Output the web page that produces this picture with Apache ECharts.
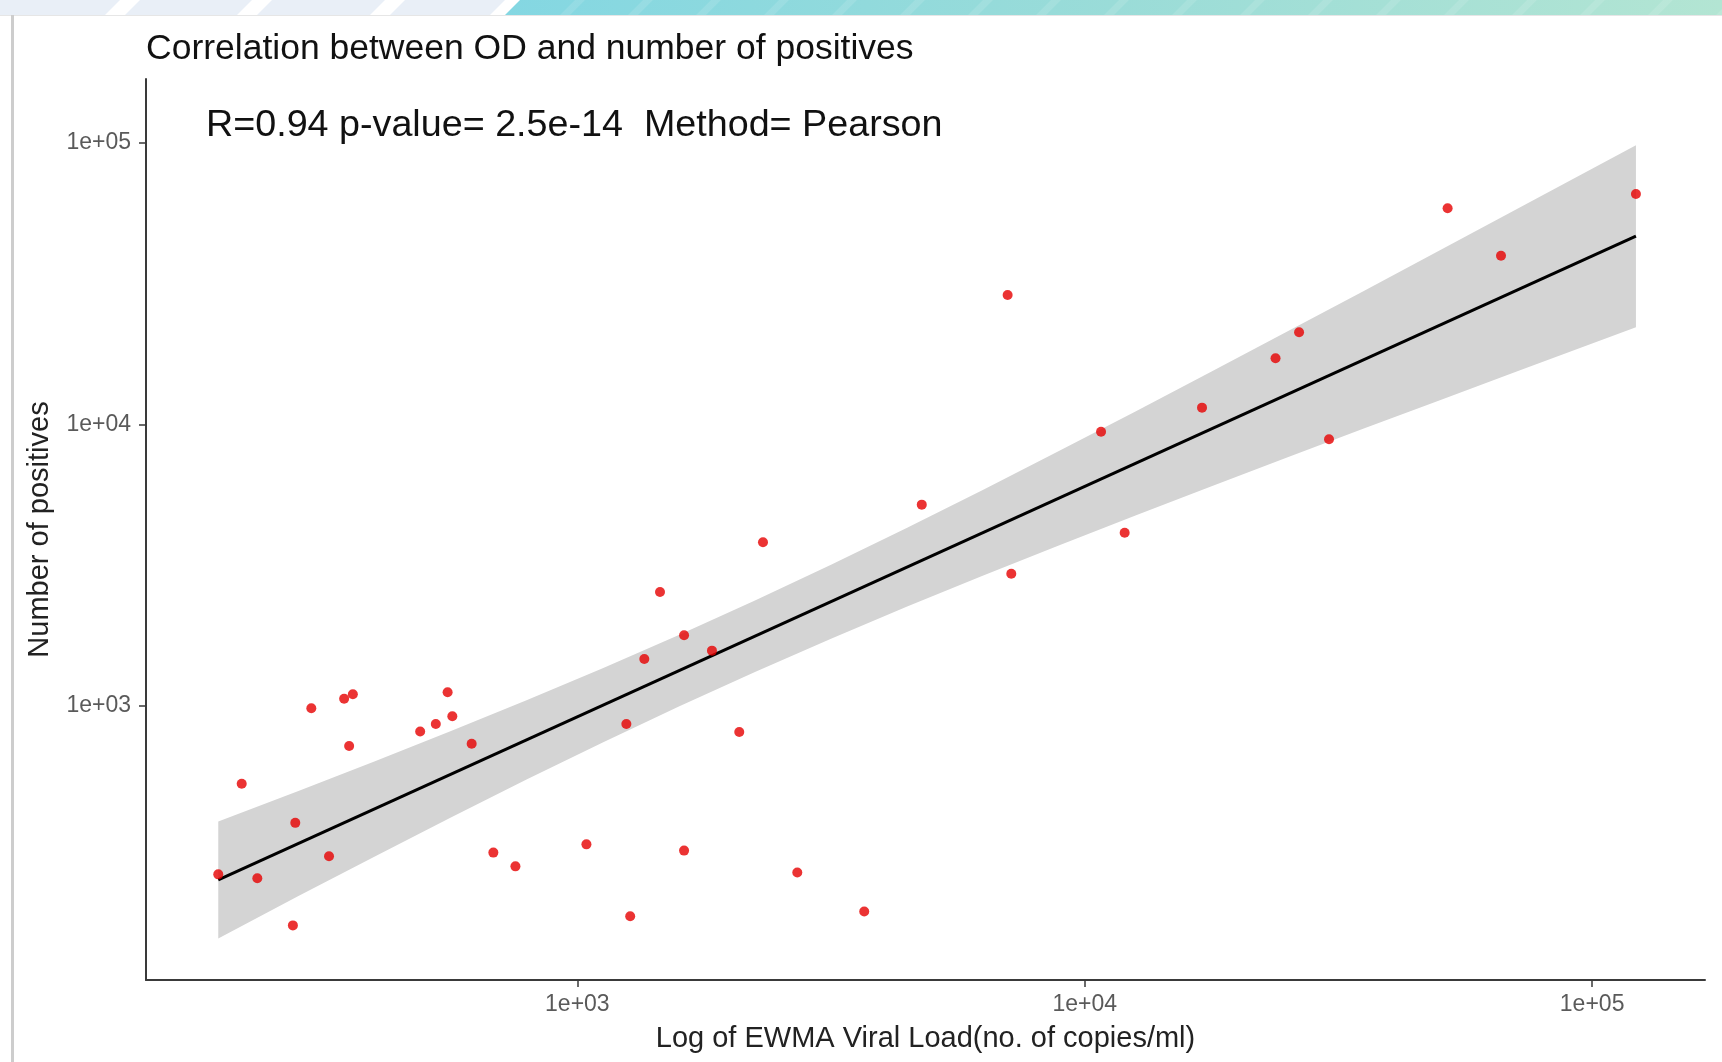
<!DOCTYPE html>
<html><head><meta charset="utf-8">
<script src="https://cdn.jsdelivr.net/npm/echarts@6/dist/echarts.min.js"></script>
<style>html,body{margin:0;padding:0;background:#fff}#c{width:1722px;height:1062px}</style>
</head><body><div id="c"></div>
<script>
// ---- data ----
const viralLoad = [196, 218, 234, 275, 278, 299, 324, 347, 355, 361, 490, 526, 555, 567, 619, 683, 755, 1042, 1249, 1271, 1355, 1455, 1623, 1623, 1842, 2085, 2322, 2713, 3676, 4773, 7047, 7165, 10768, 11986, 17027, 23770, 26450, 30300, 51900, 66130, 121990];
const positives = [252, 529, 244, 166, 384, 980, 292, 1060, 720, 1099, 810, 862, 1117, 918, 733, 301, 269, 322, 862, 179, 1467, 2538, 1781, 306, 1570, 807, 3810, 256, 186, 5182, 28790, 2947, 9413, 4121, 11455, 17153, 21230, 8845, 58520, 39700, 65770];
const fitX = [196, 122000];
const fitY = [241, 46550];
const bandX = [196, 282, 398, 562, 794, 1122, 1585, 2239, 3162, 4467, 6310, 8913, 12589, 17783, 25119, 35481, 50119, 70795, 122000];
const bandLow = [149, 211, 291, 400, 547, 741, 994, 1319, 1731, 2251, 2901, 3717, 4741, 6023, 7631, 9650, 12180, 15370, 22100];
const bandHigh = [388, 498, 634, 812, 1047, 1359, 1783, 2364, 3171, 4293, 5859, 8052, 11110, 15390, 21380, 29750, 41470, 57880, 98000];
const xTickValues = [1000, 10000, 100000];
const xTickLabels = ['1e+03', '1e+04', '1e+05'];
const yTickValues = [1000, 10000, 100000];
const yTickLabels = ['1e+03', '1e+04', '1e+05'];
const titleText = 'Correlation between OD and number of positives';
const statText = 'R=0.94 p-value= 2.5e-14  Method= Pearson';
const xName = 'Log of EWMA Viral Load(no. of copies/ml)';
const yName = 'Number of positives';

const FONT = '"Liberation Sans", Arial, sans-serif';
const AXIS_COLOR = '#3a3a3a';

function labelFor(values, labels) {
  return function (v) {
    for (let i = 0; i < values.length; i++) {
      if (Math.abs(values[i] - v) / values[i] < 1e-6) return labels[i];
    }
    return '';
  };
}

// decorative banner (top strip) + left frame line
const graphics = [];
graphics.push({ type: 'rect', left: 0, top: 0, shape: { width: 520, height: 15 }, style: { fill: '#e9eff7' }, silent: true });
graphics.push({ type: 'rect', left: 505, top: 0, shape: { width: 1217, height: 15 },
  style: { fill: new echarts.graphic.LinearGradient(0, 0, 1, 0, [
    { offset: 0, color: '#84d7e2' }, { offset: 0.5, color: '#9adcd8' }, { offset: 1, color: '#b3e5d3' }]) }, silent: true });
[105, 237, 370].forEach(function (x) {
  graphics.push({ type: 'polygon', shape: { points: [[x, 15], [x + 20, 15], [x + 35, 0], [x + 15, 0]] }, style: { fill: '#ffffff' }, silent: true });
});
graphics.push({ type: 'polygon', shape: { points: [[490, 15], [505, 15], [520, 0], [505, 0]] }, style: { fill: '#ffffff' }, silent: true });
for (let x = 560; x < 1722; x += 68) {
  graphics.push({ type: 'polygon', shape: { points: [[x, 15], [x + 10, 15], [x + 25, 0], [x + 15, 0]] }, style: { fill: 'rgba(255,255,255,0.12)' }, silent: true });
}
graphics.push({ type: 'rect', left: 0, top: 15, shape: { width: 1722, height: 1 }, style: { fill: '#e6e6e6' }, silent: true });
graphics.push({ type: 'rect', left: 11, top: 15, shape: { width: 3, height: 1047 }, style: { fill: '#cdcdcd' }, silent: true });

const chart = echarts.init(document.getElementById('c'), null, { renderer: 'canvas' });
chart.setOption({
  backgroundColor: '#ffffff',
  animation: false,
  title: [
    { text: titleText, left: 146, top: 31, padding: 0,
      textStyle: { fontFamily: FONT, fontSize: 35.5, fontWeight: 'normal', color: '#111' } },
    { text: statText, left: 206, top: 107, padding: 0,
      textStyle: { fontFamily: FONT, fontSize: 37.7, fontWeight: 'normal', color: '#111' } }
  ],
  graphic: graphics,
  grid: { left: 146, right: 17, top: 79, bottom: 82, containLabel: false },
  xAxis: {
    type: 'log', logBase: 10, min: 141.2, max: 166900,
    name: xName, nameLocation: 'middle', nameGap: 44,
    nameTextStyle: { fontFamily: FONT, fontSize: 29, color: '#222' },
    axisLine: { show: true, lineStyle: { color: AXIS_COLOR, width: 2 } },
    axisTick: { show: true, length: 7, customValues: xTickValues, lineStyle: { color: AXIS_COLOR, width: 1.5 } },
    axisLabel: { customValues: xTickValues, formatter: labelFor(xTickValues, xTickLabels), margin: 13,
      fontFamily: FONT, fontSize: 23, color: '#5a5a5a' },
    splitLine: { show: false }, minorTick: { show: false }
  },
  yAxis: {
    type: 'log', logBase: 10, min: 106.2, max: 168400,
    name: yName, nameLocation: 'middle', nameGap: 92, nameRotate: 90,
    nameTextStyle: { fontFamily: FONT, fontSize: 29, color: '#222' },
    axisLine: { show: true, lineStyle: { color: AXIS_COLOR, width: 2 } },
    axisTick: { show: true, length: 7, customValues: yTickValues, lineStyle: { color: AXIS_COLOR, width: 1.5 } },
    axisLabel: { customValues: yTickValues, formatter: labelFor(yTickValues, yTickLabels), margin: 15,
      fontFamily: FONT, fontSize: 23, color: '#5a5a5a' },
    splitLine: { show: false }, minorTick: { show: false }
  },
  series: [
    {
      type: 'custom', name: 'band', z: 1, silent: true,
      data: bandX.map(function (x, i) { return [x, bandLow[i], bandHigh[i]]; }),
      encode: { x: 0, y: [1, 2] },
      renderItem: function (params, api) {
        if (params.dataIndex !== 0) return null;
        const top = bandX.map(function (x, i) { return api.coord([x, bandHigh[i]]); });
        const bot = bandX.map(function (x, i) { return api.coord([x, bandLow[i]]); }).reverse();
        return { type: 'polygon', shape: { points: top.concat(bot) }, style: { fill: '#d4d4d4' } };
      }
    },
    {
      type: 'line', name: 'fit', z: 2, silent: true, showSymbol: false, symbol: 'none',
      data: fitX.map(function (x, i) { return [x, fitY[i]]; }),
      lineStyle: { color: '#000', width: 3 }
    },
    {
      type: 'scatter', name: 'points', z: 3, symbolSize: 10,
      data: viralLoad.map(function (x, i) { return [x, positives[i]]; }),
      itemStyle: { color: '#e60000' }
    }
  ]
});
</script></body></html>
